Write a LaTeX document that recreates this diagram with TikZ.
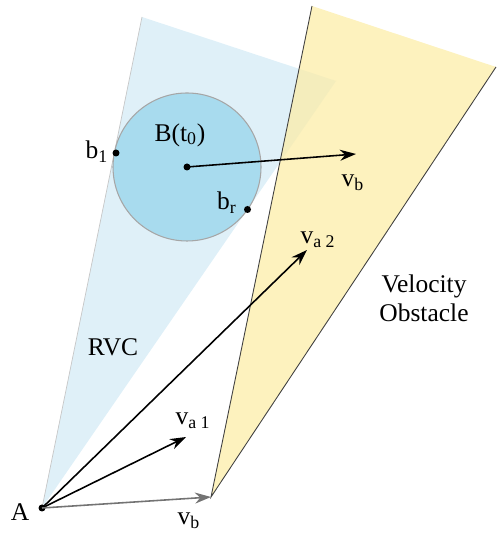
\documentclass[tikz,border=0pt]{standalone}
\usepackage{fontspec}
\setmainfont{Liberation Serif}
\newfontfamily\labelfont{Liberation Serif}
\usetikzlibrary{positioning,arrows.meta}
\definecolor{rvcblue}{HTML}{DFF0F8}
\definecolor{ballblue}{HTML}{A8DBEE}
\definecolor{voyellow}{HTML}{FCEDA8}

\begin{document}
\begin{tikzpicture}[font=\labelfont\fontsize{14.5}{16.5}\selectfont,>={Stealth[length=3.2mm,width=2.2mm]},
  vec/.style={->,line width=0.9pt},
  dot/.style={circle,fill=black,inner sep=0pt,minimum size=1.4mm},
  lbl/.style={inner sep=1pt}]
  \useasboundingbox (0,0) rectangle (9.92,10.72);
  % cones
  \fill[rvcblue] (0.84,0.56) -- (2.84,10.38) -- (6.72,9.10) -- cycle;
  \draw[black!22,line width=0.4pt] (0.84,0.56) -- (2.84,10.38);
  \fill[voyellow,opacity=0.75] (4.22,0.78) -- (6.24,10.60) -- (9.92,9.38) -- cycle;
  \draw[black!75,line width=0.5pt] (6.24,10.60) -- (4.22,0.78) -- (9.92,9.38);
  % ball
  \draw[black!35,fill=ballblue,line width=0.6pt] (3.74,7.38) circle (1.48);
  \node[dot] (A)  at (0.84,0.56) {};
  \node[dot] (B)  at (3.74,7.38) {};
  \node[dot] (b1) at (2.32,7.66) {};
  \node[dot] (br) at (4.95,6.53) {};
  \coordinate (vbB) at (7.12,7.64);
  \coordinate (va2) at (6.14,5.72);
  \coordinate (va1) at (3.72,1.98);
  \coordinate (vbA) at (4.22,0.78);
  % vectors
  \draw[vec] (B.center) -- (vbB);
  \draw[vec] (A.center) -- (va2);
  \draw[vec] (A.center) -- (va1);
  \draw[vec,black!55] (A.center) -- (vbA);
  % labels
  \node[lbl] (Alab) at (0.40,0.48) {A};
  \node[lbl] (b1lab) at (1.94,7.68) {b\textsubscript{1}};
  \node[lbl] (brlab) at (4.54,6.66) {b\textsubscript{r}};
  \node[lbl] (Blab) at (3.60,8.02) {B(t\textsubscript{0})};
  \node[lbl] (vbBlab) at (7.06,7.06) {v\textsubscript{b}};
  \node[lbl] (va2lab) at (6.36,5.92) {v\textsubscript{a 2}};
  \node[lbl] (va1lab) at (3.86,2.30) {v\textsubscript{a 1}};
  \node[lbl] (vbAlab) at (3.78,0.30) {v\textsubscript{b}};
  \node[lbl,align=center] (volab) at (8.48,4.76) {Velocity\\Obstacle};
  \node[lbl] (rvclab) at (2.26,3.78) {RVC};
\end{tikzpicture}
\end{document}
